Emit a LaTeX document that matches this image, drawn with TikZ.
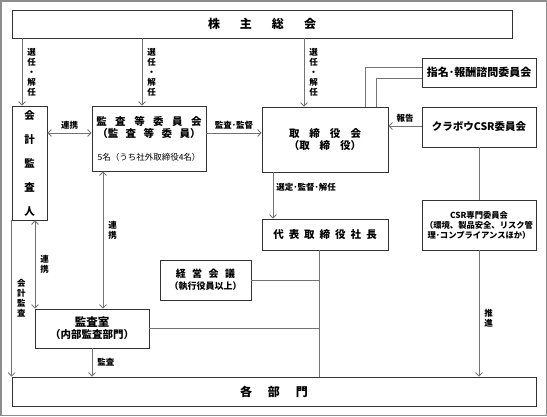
\documentclass[tikz,border=0pt]{standalone}
\usepackage{fontspec}
\setmainfont{Noto Sans CJK JP}
\usepackage{tikz}
\usetikzlibrary{arrows.meta}

\begin{document}
\begin{tikzpicture}[x=1pt,y=-1pt,
    box/.style={draw=black!80, line width=0.8pt, inner sep=0pt, align=center, font=\bfseries\fontsize{10.5}{12}\selectfont},
    link/.style={draw=black!55, line width=0.8pt},
    arr/.style={link, -{Straight Barb[length=3.5pt,width=7pt]}},
    arrs/.style={link, {Straight Barb[length=3.5pt,width=7pt]}-{Straight Barb[length=3.5pt,width=7pt]}},
    lbl/.style={inner sep=1pt, align=center, font=\bfseries\fontsize{8.5}{10}\selectfont}]
    \useasboundingbox (0,0) rectangle (547,416);
    \draw[black!45, line width=1.5pt] (0.75,0.75) rectangle (546.25,415.25);

    % boxes
    \node[box, minimum width=500pt, minimum height=28pt, font=\bfseries\fontsize{12}{14}\selectfont] (soukai) at (262,24) {株\hspace{20pt}主\hspace{20pt}総\hspace{20pt}会};
    \node[box, minimum width=35pt, minimum height=114pt, font=\bfseries\fontsize{10.5}{24}\selectfont] (kaikei) at (29.5,163) {会\\計\\監\\査\\人};
    \node[box, minimum width=114pt, minimum height=65pt] (kansa) at (149,138.5) {監\hspace{8.5pt}査\hspace{8.5pt}等\hspace{8.5pt}委\hspace{8.5pt}員\hspace{8.5pt}会\\（監\hspace{7.5pt}査\hspace{7.5pt}等\hspace{7.5pt}委\hspace{7.5pt}員）\\[11pt]{\mdseries\fontsize{8.5}{10}\selectfont 5名（うち社外取締役4名）}};
    \node[box, minimum width=126pt, minimum height=65pt] (torishimari) at (325,139.5) {取\hspace{10pt}締\hspace{10pt}役\hspace{10pt}会\\（取\hspace{10pt}締\hspace{10pt}役）};
    \node[box, minimum width=114pt, minimum height=29pt, font=\bfseries\fontsize{11}{13}\selectfont] (shimei) at (479,72.5) {指名･報酬諮問委員会};
    \node[box, minimum width=114pt, minimum height=40pt] (csr) at (479,127) {クラボウCSR委員会};
    \node[box, minimum width=126pt, minimum height=31pt] (shacho) at (325,234.5) {代\hspace{5pt}表\hspace{5pt}取\hspace{5pt}締\hspace{5pt}役\hspace{5pt}社\hspace{5pt}長};
    \node[box, minimum width=114pt, minimum height=50pt, font=\bfseries\fontsize{8.3}{10}\selectfont] (csrsenmon) at (479,225) {CSR専門委員会\\（環境、製品安全、リスク管\\理･コンプライアンスほか）};
    \node[box, minimum width=91pt, minimum height=40pt, font=\bfseries\fontsize{9}{12}\selectfont] (keiei) at (205.5,280) {{\fontsize{10}{12}\selectfont 経\hspace{6.5pt}営\hspace{6.5pt}会\hspace{6.5pt}議}\\（執行役員以上）};
    \node[box, minimum width=114pt, minimum height=39pt] (kansashitsu) at (92,328.5) {{\fontsize{11.5}{12}\selectfont 監査室}\\（内部監査部門）};
    \node[box, minimum width=524pt, minimum height=29pt, font=\bfseries\fontsize{12}{14}\selectfont] (kakubu) at (274,391.5) {各\hspace{16pt}部\hspace{16pt}門};

    % positions of the connectors
    \coordinate (c1) at (22,0);
    \coordinate (c2) at (142,0);
    \coordinate (c3) at (304,0);
    \coordinate (r1) at (0,133);
    \coordinate (h1) at (0,126);
    \coordinate (s1) at (365,67);
    \coordinate (s2) at (376,78);
    \coordinate (t1) at (273,0);
    \coordinate (v1) at (319,0);
    \coordinate (k1) at (103,0);
    \coordinate (k2) at (35,0);

    \draw[arr] (soukai.south -| c1) -- (kaikei.north -| c1) node[lbl, midway, right=4pt] {選\\任\\・\\解\\任};
    \draw[arr] (soukai.south -| c2) -- (kansa.north -| c2) node[lbl, midway, right=4pt] {選\\任\\・\\解\\任};
    \draw[arr] (soukai.south -| c3) -- (torishimari.north -| c3) node[lbl, midway, right=4pt] {選\\任\\・\\解\\任};

    \draw[arrs] (kaikei.east |- r1) -- (kansa.west |- r1) node[lbl, midway, above=2pt] {連携};
    \draw[arr] (kansa.east |- r1) -- (torishimari.west |- r1) node[lbl, midway, above=2pt] {監査･監督};
    \draw[link] (torishimari.north -| s1) |- (shimei.west |- s1);
    \draw[link] (torishimari.north -| s2) |- (shimei.west |- s2);
    \draw[arr] (csr.west |- h1) -- (torishimari.east |- h1) node[lbl, midway, above=2pt] {報告};
    \draw[link] (csr) -- (csrsenmon);
    \draw[arr] (torishimari.south -| t1) -- (shacho.north -| t1) node[lbl, pos=0.32, right=2pt] {選定･監督･解任};

    \draw[link] (shacho.south -| v1) -- (kakubu.north -| v1);
    \draw[link] (keiei.east) -- (keiei.east -| v1);
    \draw[link] (kansashitsu.east) -- (kansashitsu.east -| v1);

    \draw[arrs] (kansa.south -| k1) -- (kansashitsu.north -| k1) node[lbl, pos=0.43, right=4pt] {連\\携};
    \draw[arrs] (kaikei.south -| k2) -- (kansashitsu.north -| k2) node[lbl, midway, right=4pt] {連\\携};
    \draw[arr] (kaikei.south west) -- (kakubu.north west) node[lbl, midway, right=4pt] {会\\計\\監\\査};
    \draw[arr] (kansashitsu.south) -- (kansashitsu.south |- kakubu.north) node[lbl, midway, right=4pt] {監査};
    \draw[arr] (csrsenmon.south) -- (csrsenmon.south |- kakubu.north) node[lbl, pos=0.54, right=4pt] {推\\進};
\end{tikzpicture}
\end{document}
